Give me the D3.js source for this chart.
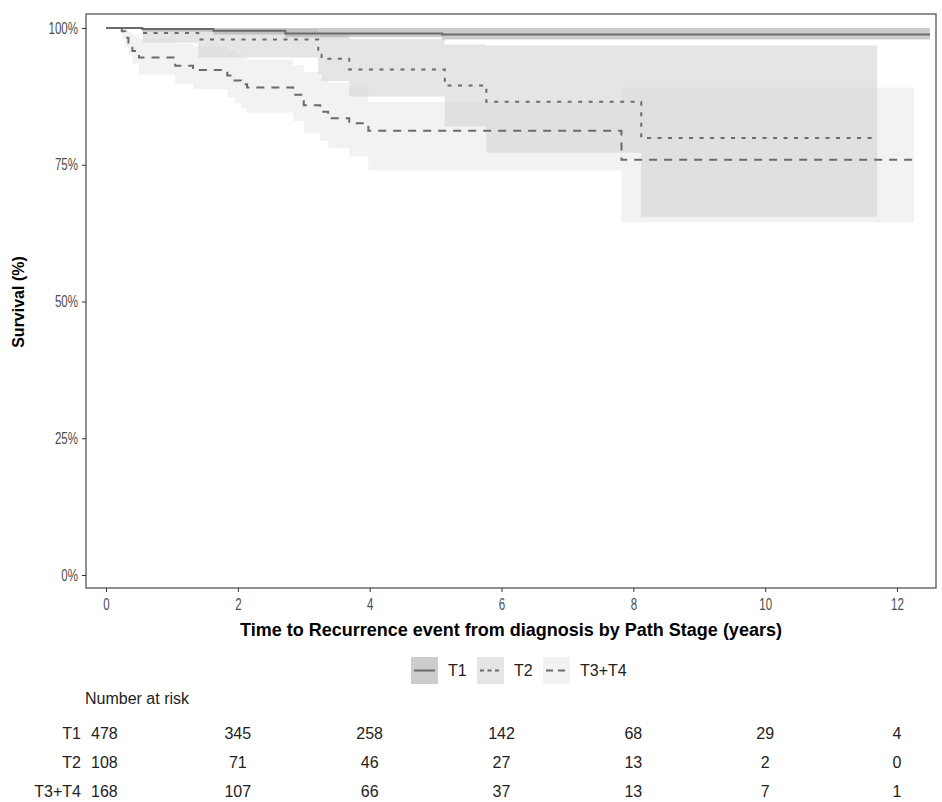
<!DOCTYPE html>
<html>
<head>
<meta charset="utf-8">
<script src="https://cdn.jsdelivr.net/npm/d3@7"></script>
<style>
  body { margin: 0; background: #fff; }
  text { font-family: "Liberation Sans Narrow", "Arial Narrow", "Liberation Sans", Arial, sans-serif; }
</style>
</head>
<body>
<div id="chart"></div>
<script>
// groups
var groups = ["T1", "T2", "T3+T4"];

// T1 curve
var t1Time  = [0, 0.55, 1.63, 2.72, 5.10];
var t1Surv  = [100, 99.8, 99.5, 99.0, 98.8];
var t1Upper = [100, 100, 100, 100, 100];
var t1Lower = [100, 99.3, 98.8, 98.3, 97.9];
var t1End = 12.5;

// T2 curve
var t2Time  = [0, 0.56, 1.40, 3.22, 3.27, 3.69, 5.14, 5.77, 8.12];
var t2Surv  = [100, 99.1, 97.9, 95.1, 94.4, 92.4, 89.5, 86.5, 79.9];
var t2Upper = [100, 100, 99.8, 99.2, 98.9, 98.0, 97.0, 96.8, 96.8];
var t2Lower = [100, 97.3, 94.6, 91.5, 90.3, 87.5, 82.0, 77.2, 65.5];
var t2End = 11.70;

// T3+T4 curve
var t34Time  = [0, 0.24, 0.29, 0.34, 0.40, 0.50, 1.05, 1.32, 1.84, 1.95, 2.05, 2.14, 2.84, 3.00, 3.25, 3.37, 3.69, 3.98, 7.82];
var t34Surv  = [100, 99.4, 98.2, 97.0, 95.8, 94.6, 93.1, 92.3, 91.3, 90.4, 89.7, 89.1, 87.8, 85.9, 84.7, 83.5, 82.6, 81.2, 75.9];
var t34Upper = [100, 100, 99.8, 99.3, 98.8, 98.0, 97.1, 96.6, 95.9, 95.2, 94.7, 94.2, 93.2, 92.0, 91.0, 90.0, 89.2, 86.5, 89.1];
var t34Lower = [100, 98.0, 96.5, 95.0, 93.5, 91.5, 89.8, 88.8, 87.3, 86.2, 85.3, 84.5, 83.0, 80.8, 79.4, 78.0, 76.5, 74.0, 64.5];
var t34End = 12.26;

// ticks and risk table
var xTicks = [0, 2, 4, 6, 8, 10, 12];
var yTicks = [0, 25, 50, 75, 100];
var riskT1  = [478, 345, 258, 142, 68, 29, 4];
var riskT2  = [108, 71, 46, 27, 13, 2, 0];
var riskT34 = [168, 107, 66, 37, 13, 7, 1];

var W = 942, H = 802;
var svg = d3.select("#chart").append("svg")
    .attr("width", W)
    .attr("height", H);

var panel = {left: 86, right: 936, top: 14, bottom: 588};

var x = d3.scaleLinear().domain([0, 12]).range([106, 897]);
var y = d3.scaleLinear().domain([0, 100]).range([575, 28]);

function build(time, surv, upper, lower, end) {
    var pts = time.map(function (t, i) {
        return {t: t, s: surv[i], u: upper[i], l: lower[i]};
    });
    var last = pts[pts.length - 1];
    pts.push({t: end, s: last.s, u: last.u, l: last.l});
    return pts;
}

var curves = [
    {name: "T1", pts: build(t1Time, t1Surv, t1Upper, t1Lower, t1End), fill: "#555555", dash: null},
    {name: "T2", pts: build(t2Time, t2Surv, t2Upper, t2Lower, t2End), fill: "#a8a8a8", dash: "4,6.5"},
    {name: "T3+T4", pts: build(t34Time, t34Surv, t34Upper, t34Lower, t34End), fill: "#d4d4d4", dash: "8,7"}
];

var lineColor = "#6b6b6b";

var area = d3.area()
    .curve(d3.curveStepAfter)
    .x(function (d) { return x(d.t); })
    .y0(function (d) { return y(d.l); })
    .y1(function (d) { return y(d.u); });

var line = d3.line()
    .curve(d3.curveStepAfter)
    .x(function (d) { return x(d.t); })
    .y(function (d) { return y(d.s); });

// bands
svg.selectAll(".band")
    .data(curves)
    .enter()
    .append("path")
    .attr("class", "band")
    .attr("d", function (d) { return area(d.pts); })
    .attr("fill", function (d) { return d.fill; })
    .attr("fill-opacity", 0.3);

// lines
svg.selectAll(".km")
    .data(curves)
    .enter()
    .append("path")
    .attr("class", "km")
    .attr("d", function (d) { return line(d.pts); })
    .attr("fill", "none")
    .attr("stroke", lineColor)
    .attr("stroke-width", 2)
    .attr("stroke-dasharray", function (d) { return d.dash; });

// panel border
svg.append("rect")
    .attr("x", panel.left)
    .attr("y", panel.top)
    .attr("width", panel.right - panel.left)
    .attr("height", panel.bottom - panel.top)
    .attr("fill", "none")
    .attr("stroke", "#555")
    .attr("stroke-width", 1.3);

// axes
var xAxis = svg.append("g")
    .attr("transform", "translate(0," + panel.bottom + ")")
    .call(d3.axisBottom(x).tickValues(xTicks).tickSize(4).tickPadding(7));
var yAxis = svg.append("g")
    .attr("transform", "translate(" + panel.left + ",0)")
    .call(d3.axisLeft(y).tickValues(yTicks).tickSize(4).tickPadding(4)
        .tickFormat(function (d) { return d + "%"; }));

[xAxis, yAxis].forEach(function (a) {
    a.select(".domain").remove();
    a.selectAll(".tick line").attr("stroke", "#333");
    a.selectAll(".tick text")
        .attr("fill", "#4d4d4d")
        .style("font-size", "16px")
        .each(function () {
            // squeeze to a narrow face
            var len = this.getComputedTextLength();
            d3.select(this)
                .attr("textLength", len * 0.72)
                .attr("lengthAdjust", "spacingAndGlyphs");
        });
});

// axis titles
svg.append("text")
    .attr("x", 511)
    .attr("y", 636)
    .attr("text-anchor", "middle")
    .style("font-size", "18px")
    .style("font-weight", "bold")
    .attr("fill", "#000")
    .text("Time to Recurrence event from diagnosis by Path Stage (years)");

svg.append("text")
    .attr("transform", "translate(24,302) rotate(-90)")
    .attr("text-anchor", "middle")
    .style("font-size", "16px")
    .style("font-weight", "bold")
    .attr("fill", "#000")
    .text("Survival (%)");

// legend
var legendX = [411, 477, 543];
var legend = svg.selectAll(".leg")
    .data(curves)
    .enter()
    .append("g")
    .attr("class", "leg")
    .attr("transform", function (d, i) { return "translate(" + legendX[i] + ",657)"; });

legend.append("rect")
    .attr("width", 27)
    .attr("height", 27)
    .attr("fill", function (d) { return d.fill; })
    .attr("fill-opacity", 0.3);

legend.append("line")
    .attr("x1", 3).attr("x2", 24)
    .attr("y1", 13.5).attr("y2", 13.5)
    .attr("stroke", lineColor)
    .attr("stroke-width", 2)
    .attr("stroke-dasharray", function (d) { return d.name === "T2" ? "4,3.5" : (d.name === "T3+T4" ? "7,5" : null); });

legend.append("text")
    .attr("x", 37)
    .attr("y", 19)
    .style("font-size", "16px")
    .attr("fill", "#222")
    .text(function (d) { return d.name; });

// risk table
svg.append("text")
    .attr("x", 85)
    .attr("y", 704)
    .style("font-size", "16px")
    .attr("fill", "#222")
    .text("Number at risk");

var riskRows = [riskT1, riskT2, riskT34];
var rowY = [739, 768, 797];

riskRows.forEach(function (row, r) {
    svg.append("text")
        .attr("x", 81)
        .attr("y", rowY[r])
        .attr("text-anchor", "end")
        .style("font-size", "16px")
        .attr("fill", "#222")
        .text(groups[r]);
    svg.selectAll(".risk" + r)
        .data(row)
        .enter()
        .append("text")
        .attr("x", function (d, i) { return i === 0 ? 91 : x(xTicks[i]); })
        .attr("y", rowY[r])
        .attr("text-anchor", function (d, i) { return i === 0 ? "start" : "middle"; })
        .style("font-size", "16px")
        .attr("fill", "#222")
        .text(function (d) { return d; });
});
</script>
</body>
</html>
